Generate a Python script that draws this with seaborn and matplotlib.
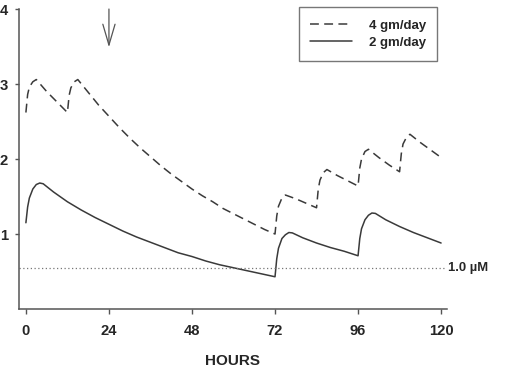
import matplotlib
matplotlib.use("Agg")
import matplotlib.pyplot as plt
import seaborn as sns
import pandas as pd

# ---- data ----
hours_4g = [0, 0.5, 1, 2, 3, 6, 9, 12, 12.5, 13, 14, 15, 18, 21, 24, 27, 30, 33, 36,
            39, 42, 45, 48, 51, 54, 57, 60, 63, 66, 69, 72, 72.5, 73, 74, 75, 78, 81,
            84, 84.5, 85, 86, 87, 90, 93, 96, 96.5, 97, 98, 99, 102, 105, 108, 108.5,
            109, 110, 111, 114, 117, 120]
conc_4g = [2.62, 2.86, 2.96, 3.03, 3.06, 2.90, 2.76, 2.62, 2.85, 2.95, 3.03, 3.06, 2.89,
           2.72, 2.57, 2.42, 2.28, 2.15, 2.03, 1.91, 1.80, 1.70, 1.60, 1.51, 1.43, 1.34,
           1.27, 1.20, 1.13, 1.06, 1.00, 1.24, 1.37, 1.48, 1.52, 1.47, 1.41, 1.35, 1.60,
           1.72, 1.82, 1.86, 1.78, 1.71, 1.64, 1.88, 2.00, 2.10, 2.13, 2.02, 1.92, 1.83,
           2.07, 2.20, 2.29, 2.33, 2.22, 2.12, 2.02]

hours_2g = [0, 0.5, 1, 2, 3, 4, 5, 8, 12, 16, 20, 24, 28, 32, 36, 40, 44, 48, 52, 56,
            60, 64, 68, 72, 72.5, 73, 74, 75, 76, 77, 80, 84, 88, 92, 96, 96.5, 97, 98,
            99, 100, 101, 104, 108, 112, 116, 120]
conc_2g = [1.15, 1.36, 1.48, 1.60, 1.66, 1.68, 1.67, 1.56, 1.43, 1.32, 1.22, 1.13, 1.04,
           0.96, 0.89, 0.82, 0.75, 0.70, 0.64, 0.59, 0.55, 0.51, 0.47, 0.43, 0.67, 0.81,
           0.94, 0.99, 1.02, 1.015, 0.95, 0.88, 0.82, 0.77, 0.71, 0.94, 1.07, 1.19, 1.25,
           1.28, 1.275, 1.19, 1.10, 1.02, 0.95, 0.88]

threshold = 0.55
threshold_label = "1.0 µM"
arrow_hour = 24
x_ticks = [0, 24, 48, 72, 96, 120]
y_ticks = [1, 2, 3, 4]
labels = ["4 gm/day", "2 gm/day"]

df4 = pd.DataFrame({"hours": hours_4g, "conc": conc_4g})
df2 = pd.DataFrame({"hours": hours_2g, "conc": conc_2g})

sns.set_style("white")
plt.rcParams["font.family"] = ["Liberation Sans", "DejaVu Sans"]
plt.rcParams["font.weight"] = "bold"

fig = plt.figure(figsize=(5.13, 3.67), dpi=100)
ax = fig.add_axes([0.0370, 0.1580, 0.8343, 0.8174])

line_col = "#3a3a3a"
sns.lineplot(data=df4, x="hours", y="conc", ax=ax, color=line_col, lw=1.1,
             label=labels[0], sort=False)
ax.lines[-1].set_dashes((5.8, 3.5))
sns.lineplot(data=df2, x="hours", y="conc", ax=ax, color=line_col, lw=1.1,
             label=labels[1], sort=False)

ax.hlines(threshold, -2, 120.8, colors="#777777", linestyles=(0, (1, 2)), lw=0.9)
ax.text(122, threshold, threshold_label, va="center", ha="left", fontsize=9.4,
        fontweight="bold", clip_on=False)

ax.annotate("", xy=(arrow_hour, 3.49), xytext=(arrow_hour, 4.0),
            arrowprops=dict(arrowstyle="->,head_length=0.75,head_width=0.22",
                            lw=0.9, color="#555555", mutation_scale=20,
                            shrinkA=0, shrinkB=0),
            annotation_clip=False)

ax.set_xlim(-2, 121.7)
ax.set_ylim(0, 4)
ax.set_xticks(x_ticks)
ax.set_yticks(y_ticks)
ax.set_xticklabels([str(t) for t in x_ticks], fontweight="bold", fontsize=10.6)
ax.set_yticklabels([str(t) for t in y_ticks], fontweight="bold", fontsize=10.6)
ax.tick_params(axis="x", bottom=True, direction="out", length=3.5, width=1,
               color="#555555", pad=7)
ax.tick_params(axis="y", left=True, direction="out", length=3, width=1,
               color="#555555", pad=5)
ax.set_xlabel("HOURS", fontsize=11, fontweight="bold", labelpad=12)
ax.set_ylabel("")

for s in ["top", "right"]:
    ax.spines[s].set_visible(False)
for s in ["left", "bottom"]:
    ax.spines[s].set_color("#555555")
    ax.spines[s].set_linewidth(1.1)

leg = ax.legend(loc="upper left", bbox_to_anchor=(0.654, 1.007), frameon=True,
                fancybox=False, edgecolor="#777777", framealpha=1,
                prop={"weight": "bold", "size": 9.5}, handlelength=3.2,
                handleheight=1.15, handletextpad=1.25, borderpad=0.85,
                labelspacing=0.25, borderaxespad=0)
leg.get_frame().set_linewidth(1.0)

fig.savefig("out.png", dpi=100)
